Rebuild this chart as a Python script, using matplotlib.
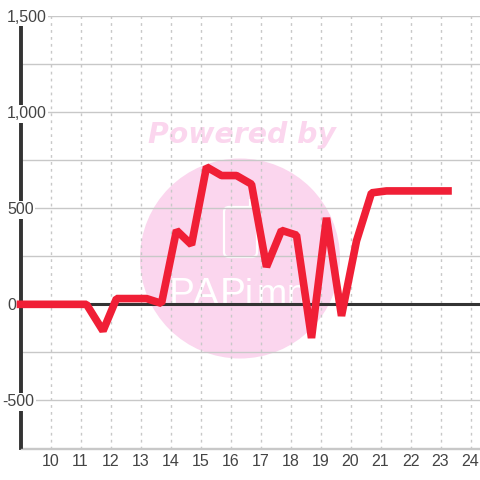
import matplotlib
matplotlib.use("Agg")
import matplotlib.pyplot as plt
from matplotlib.patches import Circle, FancyBboxPatch

hours = [9, 9.5, 10, 10.5, 11, 11.2, 11.75, 12.2, 12.7, 13.2, 13.7, 14.2, 14.7, 15.2, 15.7, 16.2,
         16.7, 17.2, 17.7, 18.2, 18.7, 19.2, 19.7, 20.2, 20.7, 21.2, 21.7, 22.2, 22.7, 23.25]
values = [0, 0, 0, 0, 0, 0, -138, 30, 30, 30, 5, 385, 310, 715, 670, 670,
          625, 195, 385, 360, -175, 450, -60, 330, 580, 590, 590, 590, 590, 590]
x_ticks = list(range(10, 25))
y_labels = [-500, 0, 500, 1000, 1500]
y_grid = [-750, -500, -250, 0, 250, 500, 750, 1000, 1250, 1500]
logo_letters = ["P", "A", "P", "i", "m", "n"]

red = "#f01f36"
pink = "#fbd6ee"
dark = "#333333"
txt = "#444444"
grid = "#c8c8c8"

fig = plt.figure(figsize=(4.8, 4.8), dpi=100)

# watermark sits behind the chart, in pixel coords
wm = fig.add_axes([0, 0, 1, 1], zorder=-1)
wm.set_xlim(0, 480)
wm.set_ylim(480, 0)
wm.axis("off")
wm.text(241.5, 143, "Powered by", color=pink, fontsize=20.4, fontweight="bold", fontstyle="italic",
        family="DejaVu Sans", ha="center", va="baseline")
wm.add_patch(Circle((240, 258.5), 100, fc=pink, ec="none"))
wm.add_patch(FancyBboxPatch((224, 207), 33, 50, boxstyle="round,pad=0,rounding_size=5", fc="none", ec="white", lw=1.6))
wm.plot([250, 250], [200, 207], color="white", lw=1.6)
for lx, ch in zip([181.5, 205.5, 232.5, 249, 271.5, 297], logo_letters):
    wm.text(lx, 305, ch, color="white", fontsize=28 if ch.isupper() else 26,
            family=["Liberation Sans Narrow", "Liberation Sans"], ha="center", va="baseline")

ax = fig.add_axes([20.5 / 480, 1 - 448.5 / 480, 459.5 / 480, 432.5 / 480])
ax.patch.set_visible(False)
ax.set_xlim(9, 9 + 459.5 / 30)
ax.set_ylim(-750, 1500)
for s in ["top", "right"]:
    ax.spines[s].set_visible(False)
ax.spines["left"].set_linewidth(2.8)
ax.spines["left"].set_color(dark)
ax.spines["left"].set_zorder(1)
ax.spines["bottom"].set_linewidth(1)
ax.spines["bottom"].set_color(grid)

ax.set_yticks(y_grid)
ax.set_yticklabels([])
ax.set_xticks(x_ticks)
ax.tick_params(length=0, labelsize=11.5, labelcolor=txt, labelfontfamily="Liberation Sans")
ax.tick_params(axis="x", pad=4)
ax.grid(axis="y", color=grid, lw=1)
ax.grid(axis="x", color=grid, lw=1, ls=(0, (2, 3)))
ax.set_axisbelow(True)
ax.axhline(0, color=dark, lw=2.2, zorder=2)
ax.plot(hours, values, color=red, lw=5.5, solid_joinstyle="bevel", solid_capstyle="projecting", clip_on=False, zorder=3)

# y labels hang over the axis line with a white box behind them
for v in y_labels:
    left = 2.5 if v < 0 else 7
    ax.text((left - 20.5) / 459.5, v, f"{v:,}", transform=ax.get_yaxis_transform(), ha="left", va="center_baseline",
            fontsize=11.5, color=txt, family="Liberation Sans", zorder=2.5,
            bbox=dict(fc="white", ec="none", pad=1))

fig.savefig("out.png", dpi=100)
